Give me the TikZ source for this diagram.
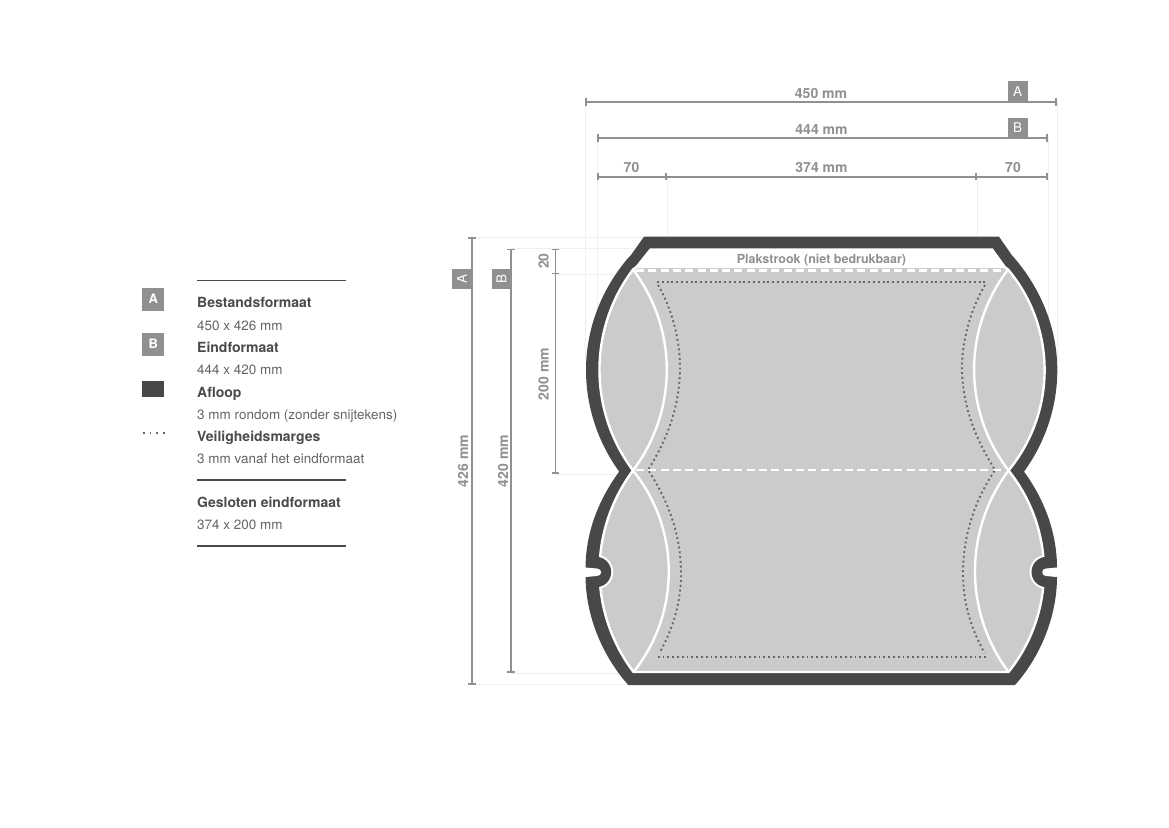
\documentclass[tikz,border=0pt]{standalone}
\usepackage{fontspec}
\setmainfont{TeX Gyre Heros}
\usetikzlibrary{arrows.meta}
\definecolor{band}{HTML}{484848}
\definecolor{body}{HTML}{CBCBCB}
\definecolor{dimc}{HTML}{909090}
\definecolor{guide}{HTML}{EFEFEF}
\definecolor{txt}{HTML}{4A4A4A}
\definecolor{dotc}{HTML}{666666}
\tikzset{
  dimline/.style={draw=dimc,line width=1.6pt,{Bar[width=7.5pt,length=1.2pt]}-{Bar[width=7.5pt,length=1.2pt]}},
  dimcont/.style={draw=dimc,line width=1.6pt,-{Bar[width=7.5pt,length=1.2pt]}},
  guideline/.style={draw=guide,line width=0.7pt},
  dimtext/.style={text=dimc,font=\fontsize{14}{16}\selectfont\bfseries,inner sep=0pt},
  badge/.style={fill=dimc,draw=none},
  badgetext/.style={text=white,font=\fontsize{13.5}{15}\selectfont,inner sep=0pt},
  legbadgetext/.style={text=white,font=\fontsize{13}{15}\selectfont\bfseries,inner sep=0pt},
  legbold/.style={anchor=base west,inner sep=0pt,text=txt,font=\fontsize{14}{16}\selectfont\bfseries},
  legreg/.style={anchor=base west,inner sep=0pt,text=txt!85,font=\fontsize{13.47}{16}\selectfont},
  legrule/.style={draw=txt,line width=1.3pt},
  whiteline/.style={draw=white,line width=2.4pt},
  dashline/.style={draw=white,line width=2.7pt,dash pattern=on 8pt off 4.3pt},
  dotline/.style={draw=dotc,line width=1.9pt,dash pattern=on 1.9pt off 2.9pt}
}
\def\lensLL{(633,470.5) .. controls (588.3,530.5) and (588.3,612) .. (633.5,672) .. controls (680.6,613.1) and (680.6,529.4) .. (633,470.5) -- cycle}
\def\lensLR{(1008.5,470.5) .. controls (1055.8,529.5) and (1055.8,613) .. (1008.5,672) .. controls (963.8,612) and (963.8,530.5) .. (1008.5,470.5) -- cycle}
\begin{document}
\begin{tikzpicture}[x=1pt,y=-1pt]
\useasboundingbox (0,0) rectangle (1169,827);
\fill[white] (0,0) rectangle (1169,827);
% guide lines
\draw[guideline] (585.7,102) -- (585.7,360);
\draw[guideline] (597,138) -- (597,320);
\draw[guideline] (667,177) -- (667,268);
\draw[guideline] (977.2,177) -- (977.2,268);
\draw[guideline] (1048,138) -- (1048,320);
\draw[guideline] (1057,102) -- (1057,360);
\draw[guideline] (472,237.3) -- (650,237.3);
\draw[guideline] (511,248) -- (650,248);
\draw[guideline] (555.3,274.3) -- (640,274.3);
\draw[guideline] (555.3,474) -- (622,474);
\draw[guideline] (511,673) -- (640,673);
\draw[guideline] (472,684.5) -- (640,684.5);
% outer bleed band
\fill[band] (644,236.7) -- (999,236.7) -- (1011.7,255) -- (1013.5,257)
  .. controls (1040.8,288.4) and (1057.3,328.4) .. (1057.3,370)
  .. controls (1057.3,406.5) and (1045.5,442) .. (1024,471.6)
  .. controls (1045.3,500.8) and (1057,534) .. (1057,568)
  -- (1057,577) .. controls (1057,613) and (1042.7,654) .. (1015,685)
  -- (628.3,685) .. controls (600.6,654) and (585.6,613) .. (585.6,577)
  -- (585.6,567.5) .. controls (585.6,534) and (597.7,500.8) .. (619.2,471.6)
  .. controls (597.7,442) and (586,406.5) .. (586,370)
  .. controls (586,328.4) and (601.7,288.4) .. (629,257)
  -- (631,255) -- cycle;
% white glue strip
\fill[white] (650,248.3) -- (992.7,248.3) -- (1008,269.5) -- (633,269.5) -- cycle;
% body
\path[fill=body,whiteline] (633,269.5) -- (637,266.6) -- (1004,266.6) -- (1008,269.5)
  .. controls (1056.7,327.5) and (1056.7,412) .. (1008.5,470.5)
  .. controls (1055.8,529.5) and (1055.8,613) .. (1008.5,672)
  -- (633.5,672)
  .. controls (588.3,612) and (588.3,530.5) .. (633,470.5)
  .. controls (588.3,410.6) and (588.3,328.9) .. (633,269.5) -- cycle;
% lens inner arcs
\draw[whiteline] (633,269.5) .. controls (678,328.9) and (678,410.6) .. (633,470.5)
  .. controls (680.6,529.4) and (680.6,613.1) .. (633.5,672);
\draw[whiteline] (1008,269.5) .. controls (962.7,329) and (962.7,410.6) .. (1008.5,470.5)
  .. controls (963.8,530.5) and (963.8,612) .. (1008.5,672);
% fold lines
\draw[dashline] (636,270.8) -- (1005,270.8);
\draw[dashline] (636,470) -- (1005,470);
% safety margins
\draw[dotline] (657,282.3) -- (985.5,282.3);
\draw[dotline] (658,285) .. controls (670,305) and (680,337) .. (680,367)
  .. controls (680,405) and (668,438) .. (648,470)
  .. controls (668,500) and (681,535) .. (681,573)
  .. controls (681,605) and (672,630) .. (659.5,653);
\draw[dotline] (657.7,656.7) -- (986,656.7);
\draw[dotline] (985,285) .. controls (973,305) and (962,337) .. (962,367)
  .. controls (962,405) and (975,438) .. (995,470)
  .. controls (975,500) and (963,535) .. (963,573)
  .. controls (963,605) and (972,630) .. (984.5,653);
% thumb notches
\begin{scope}
  \clip \lensLL;
  \draw[whiteline] (596,572) circle[radius=16];
\end{scope}
\begin{scope}
  \clip \lensLR;
  \draw[whiteline] (1046.7,572) circle[radius=16];
\end{scope}
\begin{scope}
  \clip (590,550) rectangle (620,595);
  \fill[band] (596,572) circle[radius=15.2];
\end{scope}
\begin{scope}
  \clip (1025,550) rectangle (1052,595);
  \fill[band] (1046.7,572) circle[radius=15.2];
\end{scope}
\fill[white] (583,567.3) -- (597,568.5) .. controls (602.5,568.5) and (602.5,576) .. (597,576) -- (583,577.2) -- cycle;
\fill[white] (1059,567.3) -- (1046,568.5) .. controls (1041,568.5) and (1041,576) .. (1046,576) -- (1059,577.2) -- cycle;
\node[inner sep=0pt,text=dimc,font=\fontsize{12.5}{14}\selectfont\bfseries] (glue) at (821.5,260.3) {Plakstrook (niet bedrukbaar)};
% horizontal dimensions
\draw[dimline] (585,102) -- (1057,102);
\draw[dimline] (597,138.1) -- (1048,138.1);
\draw[dimline] (597,176.7) -- (667,176.7);
\draw[dimcont] (667,176.7) -- (977,176.7);
\draw[dimcont] (977,176.7) -- (1048,176.7);
\node[dimtext] (d450) at (821,93.3) {450 mm};
\node[dimtext] (d444) at (821.5,129.5) {444 mm};
\node[dimtext] (d70a) at (631.5,167.5) {70};
\node[dimtext] (d374) at (821.5,167.5) {374 mm};
\node[dimtext] (d70b) at (1013,167.5) {70};
\fill[badge] (1007.7,81) rectangle (1027.7,102);
\node[badgetext] (ba) at (1017.7,91.5) {A};
\fill[badge] (1007.7,117.7) rectangle (1027.7,138.1);
\node[badgetext] (bb) at (1017.7,128) {B};
% vertical dimensions
\draw[dimline] (472,237.3) -- (472,684.5);
\draw[dimline] (511,248.7) -- (511,673);
\draw[dimline] (555.3,248.7) -- (555.3,274.3);
\draw[dimcont] (555.3,274.3) -- (555.3,474);
\node[dimtext,rotate=90] (d426) at (463,461) {426 mm};
\node[dimtext,rotate=90] (d420) at (503,461) {420 mm};
\node[dimtext,rotate=90] (d20) at (543.7,261) {20};
\node[dimtext,rotate=90] (d200) at (543.7,374) {200 mm};
\fill[badge] (452,269.3) rectangle (472,288.5);
\node[badgetext,rotate=90] (va) at (462,279) {A};
\fill[badge] (491.7,269.3) rectangle (511,288.5);
\node[badgetext,rotate=90] (vb) at (501.5,279) {B};
% legend
\draw[legrule] (197,280.3) -- (346,280.3);
\draw[legrule] (197,480) -- (346,480);
\draw[legrule] (197,546) -- (346,546);
\fill[badge] (142.3,288.3) rectangle (164,311);
\node[legbadgetext] (la) at (153.2,298.5) {A};
\fill[badge] (142.3,333.3) rectangle (164,356);
\node[legbadgetext] (lb) at (153.2,343.5) {B};
\fill[band] (142.3,380.7) rectangle (164,396.7);
\draw[draw=dotc,line width=1.6pt,dash pattern=on 1.6pt off 5.07pt] (143,432.7) -- (165,432.7);
\node[legbold] (t1) at (197,307.3) {Bestandsformaat};
\node[legreg] (t2) at (197,330.3) {450 x 426 mm};
\node[legbold] (t3) at (197,352.2) {Eindformaat};
\node[legreg] (t4) at (197,374.5) {444 x 420 mm};
\node[legbold] (t5) at (197,397) {Afloop};
\node[legreg] (t6) at (197,419.3) {3 mm rondom (zonder snijtekens)};
\node[legbold] (t7) at (197,441.3) {Veiligheidsmarges};
\node[legreg] (t8) at (197,463.3) {3 mm vanaf het eindformaat};
\node[legbold] (t9) at (197,507.8) {Gesloten eindformaat};
\node[legreg] (t10) at (197,529.7) {374 x 200 mm};
\end{tikzpicture}
\end{document}
